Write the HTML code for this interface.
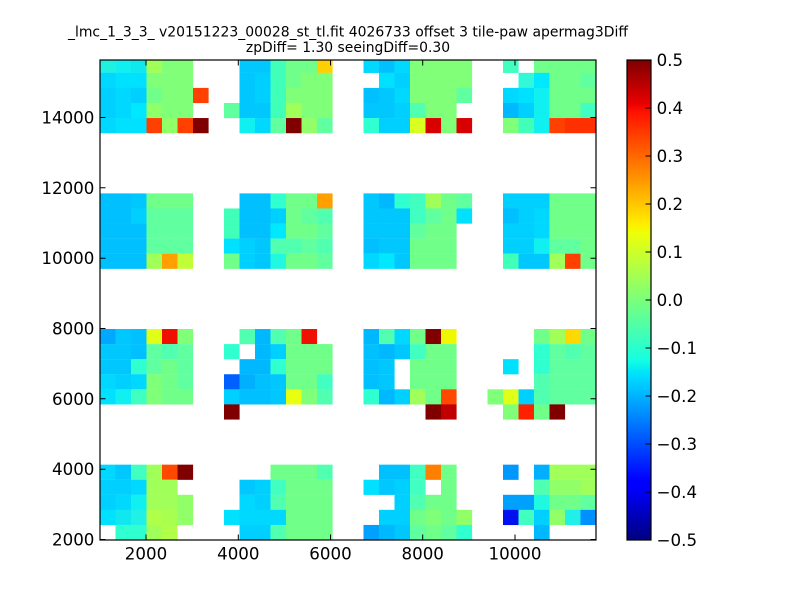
<!DOCTYPE html>
<html><head><meta charset="utf-8"><style>
html,body{margin:0;padding:0;background:#fff;}
svg{display:block;}
text{font-family:"DejaVu Sans","Liberation Sans",sans-serif;fill:#000;}
</style></head><body>
<svg width="800" height="600" viewBox="0 0 800 600" xmlns="http://www.w3.org/2000/svg">
<defs>
<clipPath id="ax"><rect x="100" y="60" width="496" height="480"/></clipPath>
<linearGradient id="jet" x1="0" y1="1" x2="0" y2="0">
<stop offset="0" stop-color="#00007f"/>
<stop offset="0.11" stop-color="#0000ff"/>
<stop offset="0.125" stop-color="#0000ff"/>
<stop offset="0.34" stop-color="#00dbff"/>
<stop offset="0.35" stop-color="#00e5f7"/>
<stop offset="0.375" stop-color="#15ffe2"/>
<stop offset="0.5" stop-color="#7bff7b"/>
<stop offset="0.64" stop-color="#eeff08"/>
<stop offset="0.65" stop-color="#f7f500"/>
<stop offset="0.66" stop-color="#ffec00"/>
<stop offset="0.89" stop-color="#ff1300"/>
<stop offset="0.91" stop-color="#e80000"/>
<stop offset="1" stop-color="#7f0000"/>
</linearGradient>
</defs>
<rect width="800" height="600" fill="#fff"/>

<g clip-path="url(#ax)">
<!-- r31 -->
<g transform="translate(0,57.76)">
<rect x="100" width="15.6" height="15.2" fill="#20f0e0"/><rect x="115.5" width="15.6" height="15.2" fill="#10f0f0"/><rect x="131" width="15.6" height="15.2" fill="#10e8f0"/><rect x="146.5" width="15.6" height="15.2" fill="#a0ff58"/><rect x="162" width="15.6" height="15.2" fill="#80ff78"/><rect x="177.5" width="15.6" height="15.2" fill="#80ff78"/>
<rect x="239.5" width="15.6" height="15.2" fill="#00c8ff"/><rect x="255" width="15.6" height="15.2" fill="#00c8ff"/><rect x="270.5" width="15.6" height="15.2" fill="#40ffb8"/><rect x="286" width="15.6" height="15.2" fill="#70ff88"/><rect x="301.5" width="15.6" height="15.2" fill="#70ff88"/><rect x="317" width="15.6" height="15.2" fill="#ffd000"/>
<rect x="363.5" width="15.6" height="15.2" fill="#00d8ff"/><rect x="379" width="15.6" height="15.2" fill="#00c0ff"/><rect x="394.5" width="15.6" height="15.2" fill="#00d8ff"/><rect x="410" width="15.6" height="15.2" fill="#80ff78"/><rect x="425.5" width="15.6" height="15.2" fill="#80ff78"/><rect x="441" width="15.6" height="15.2" fill="#80ff78"/><rect x="456.5" width="15.6" height="15.2" fill="#80ff78"/>
<rect x="503" width="15.6" height="15.2" fill="#40ffc0"/><rect x="534" width="15.6" height="15.2" fill="#70ff88"/><rect x="549.5" width="15.6" height="15.2" fill="#70ff88"/><rect x="565" width="15.6" height="15.2" fill="#70ff88"/><rect x="580.5" width="15.6" height="15.2" fill="#70ff88"/>
</g>
<!-- r30 -->
<g transform="translate(0,72.83)">
<rect x="100" width="15.6" height="15.2" fill="#00d8ff"/><rect x="115.5" width="15.6" height="15.2" fill="#00e0ff"/><rect x="131" width="15.6" height="15.2" fill="#00e0ff"/><rect x="146.5" width="15.6" height="15.2" fill="#80ff78"/><rect x="162" width="15.6" height="15.2" fill="#80ff78"/><rect x="177.5" width="15.6" height="15.2" fill="#80ff78"/>
<rect x="239.5" width="15.6" height="15.2" fill="#00c8ff"/><rect x="255" width="15.6" height="15.2" fill="#00d0ff"/><rect x="270.5" width="15.6" height="15.2" fill="#40ffb8"/><rect x="286" width="15.6" height="15.2" fill="#70ff88"/><rect x="301.5" width="15.6" height="15.2" fill="#80ff78"/><rect x="317" width="15.6" height="15.2" fill="#80ff78"/>
<rect x="379" width="15.6" height="15.2" fill="#00e0ff"/><rect x="394.5" width="15.6" height="15.2" fill="#00d0ff"/><rect x="410" width="15.6" height="15.2" fill="#80ff78"/><rect x="425.5" width="15.6" height="15.2" fill="#80ff78"/><rect x="441" width="15.6" height="15.2" fill="#80ff78"/><rect x="456.5" width="15.6" height="15.2" fill="#80ff78"/>
<rect x="518.5" width="15.6" height="15.2" fill="#30f8d8"/><rect x="534" width="15.6" height="15.2" fill="#00e8ff"/><rect x="549.5" width="15.6" height="15.2" fill="#70ff88"/><rect x="565" width="15.6" height="15.2" fill="#70ff88"/><rect x="580.5" width="15.6" height="15.2" fill="#60ffa0"/>
</g>
<!-- r29 -->
<g transform="translate(0,87.90)">
<rect x="100" width="15.6" height="15.2" fill="#00d0ff"/><rect x="115.5" width="15.6" height="15.2" fill="#00d8ff"/><rect x="131" width="15.6" height="15.2" fill="#00d0ff"/><rect x="146.5" width="15.6" height="15.2" fill="#70ff88"/><rect x="162" width="15.6" height="15.2" fill="#80ff78"/><rect x="177.5" width="15.6" height="15.2" fill="#80ff78"/><rect x="193" width="15.6" height="15.2" fill="#ff4000"/>
<rect x="239.5" width="15.6" height="15.2" fill="#00c8ff"/><rect x="255" width="15.6" height="15.2" fill="#00d0ff"/><rect x="270.5" width="15.6" height="15.2" fill="#40ffb8"/><rect x="286" width="15.6" height="15.2" fill="#80ff78"/><rect x="301.5" width="15.6" height="15.2" fill="#80ff78"/><rect x="317" width="15.6" height="15.2" fill="#80ff78"/>
<rect x="363.5" width="15.6" height="15.2" fill="#00c0ff"/><rect x="379" width="15.6" height="15.2" fill="#00c8ff"/><rect x="394.5" width="15.6" height="15.2" fill="#00d8ff"/><rect x="410" width="15.6" height="15.2" fill="#80ff78"/><rect x="425.5" width="15.6" height="15.2" fill="#80ff78"/><rect x="441" width="15.6" height="15.2" fill="#80ff78"/><rect x="456.5" width="15.6" height="15.2" fill="#60ffa0"/>
<rect x="503" width="15.6" height="15.2" fill="#00d8ff"/><rect x="518.5" width="15.6" height="15.2" fill="#00e0ff"/><rect x="534" width="15.6" height="15.2" fill="#10f0f0"/><rect x="549.5" width="15.6" height="15.2" fill="#70ff88"/><rect x="565" width="15.6" height="15.2" fill="#70ff88"/><rect x="580.5" width="15.6" height="15.2" fill="#70ff88"/>
</g>
<!-- r28 -->
<g transform="translate(0,102.97)">
<rect x="100" width="15.6" height="15.2" fill="#00d0ff"/><rect x="115.5" width="15.6" height="15.2" fill="#00d8ff"/><rect x="131" width="15.6" height="15.2" fill="#00e8ff"/><rect x="146.5" width="15.6" height="15.2" fill="#90ff68"/><rect x="162" width="15.6" height="15.2" fill="#80ff78"/><rect x="177.5" width="15.6" height="15.2" fill="#80ff78"/>
<rect x="224" width="15.6" height="15.2" fill="#60ffa0"/><rect x="239.5" width="15.6" height="15.2" fill="#00c8ff"/><rect x="255" width="15.6" height="15.2" fill="#00c8ff"/><rect x="270.5" width="15.6" height="15.2" fill="#40ffb8"/><rect x="286" width="15.6" height="15.2" fill="#a0ff58"/><rect x="301.5" width="15.6" height="15.2" fill="#80ff78"/><rect x="317" width="15.6" height="15.2" fill="#80ff78"/>
<rect x="363.5" width="15.6" height="15.2" fill="#00c8ff"/><rect x="379" width="15.6" height="15.2" fill="#00c8ff"/><rect x="394.5" width="15.6" height="15.2" fill="#00d0ff"/><rect x="410" width="15.6" height="15.2" fill="#50ffb0"/><rect x="425.5" width="15.6" height="15.2" fill="#80ff78"/><rect x="441" width="15.6" height="15.2" fill="#80ff78"/>
<rect x="503" width="15.6" height="15.2" fill="#00b8ff"/><rect x="518.5" width="15.6" height="15.2" fill="#00d0ff"/><rect x="534" width="15.6" height="15.2" fill="#10f0f0"/><rect x="549.5" width="15.6" height="15.2" fill="#70ff88"/><rect x="565" width="15.6" height="15.2" fill="#70ff88"/><rect x="580.5" width="15.6" height="15.2" fill="#40ffc0"/>
</g>
<!-- r27 -->
<g transform="translate(0,118.04)">
<rect x="100" width="15.6" height="15.2" fill="#00d8ff"/><rect x="115.5" width="15.6" height="15.2" fill="#00e0ff"/><rect x="131" width="15.6" height="15.2" fill="#00e0ff"/><rect x="146.5" width="15.6" height="15.2" fill="#ff4000"/><rect x="162" width="15.6" height="15.2" fill="#90ff68"/><rect x="177.5" width="15.6" height="15.2" fill="#ff4000"/><rect x="193" width="15.6" height="15.2" fill="#800000"/>
<rect x="239.5" width="15.6" height="15.2" fill="#10f0f0"/><rect x="255" width="15.6" height="15.2" fill="#00d8ff"/><rect x="270.5" width="15.6" height="15.2" fill="#60ffa0"/><rect x="286" width="15.6" height="15.2" fill="#800000"/><rect x="301.5" width="15.6" height="15.2" fill="#90ff68"/><rect x="317" width="15.6" height="15.2" fill="#60ffa0"/>
<rect x="363.5" width="15.6" height="15.2" fill="#30ffd0"/><rect x="379" width="15.6" height="15.2" fill="#00d0ff"/><rect x="394.5" width="15.6" height="15.2" fill="#00d0ff"/><rect x="410" width="15.6" height="15.2" fill="#d8ff20"/><rect x="425.5" width="15.6" height="15.2" fill="#d80000"/><rect x="441" width="15.6" height="15.2" fill="#80ff78"/><rect x="456.5" width="15.6" height="15.2" fill="#d80000"/>
<rect x="503" width="15.6" height="15.2" fill="#80ff78"/><rect x="518.5" width="15.6" height="15.2" fill="#40ffb8"/><rect x="534" width="15.6" height="15.2" fill="#10f0f0"/><rect x="549.5" width="15.6" height="15.2" fill="#ff4000"/><rect x="565" width="15.6" height="15.2" fill="#ff3000"/><rect x="580.5" width="15.6" height="15.2" fill="#ff3000"/>
</g>

<!-- r22 -->
<g transform="translate(0,193.39)">
<rect x="100" width="15.6" height="15.2" fill="#00c0ff"/><rect x="115.5" width="15.6" height="15.2" fill="#00c0ff"/><rect x="131" width="15.6" height="15.2" fill="#00c8ff"/><rect x="146.5" width="15.6" height="15.2" fill="#70ff88"/><rect x="162" width="15.6" height="15.2" fill="#70ff88"/><rect x="177.5" width="15.6" height="15.2" fill="#70ff88"/>
<rect x="239.5" width="15.6" height="15.2" fill="#00c0ff"/><rect x="255" width="15.6" height="15.2" fill="#00c0ff"/><rect x="270.5" width="15.6" height="15.2" fill="#30ffd0"/><rect x="286" width="15.6" height="15.2" fill="#70ff88"/><rect x="301.5" width="15.6" height="15.2" fill="#70ff88"/><rect x="317" width="15.6" height="15.2" fill="#ffa000"/>
<rect x="363.5" width="15.6" height="15.2" fill="#00c8ff"/><rect x="379" width="15.6" height="15.2" fill="#00b8ff"/><rect x="394.5" width="15.6" height="15.2" fill="#30ffd0"/><rect x="410" width="15.6" height="15.2" fill="#40ffc0"/><rect x="425.5" width="15.6" height="15.2" fill="#a0ff58"/><rect x="441" width="15.6" height="15.2" fill="#70ff88"/><rect x="456.5" width="15.6" height="15.2" fill="#60ffa0"/>
<rect x="503" width="15.6" height="15.2" fill="#00d0ff"/><rect x="518.5" width="15.6" height="15.2" fill="#00d0ff"/><rect x="534" width="15.6" height="15.2" fill="#00d0ff"/><rect x="549.5" width="15.6" height="15.2" fill="#70ff88"/><rect x="565" width="15.6" height="15.2" fill="#70ff88"/><rect x="580.5" width="15.6" height="15.2" fill="#70ff88"/>
</g>
<!-- r21 -->
<g transform="translate(0,208.46)">
<rect x="100" width="15.6" height="15.2" fill="#00c0ff"/><rect x="115.5" width="15.6" height="15.2" fill="#00c0ff"/><rect x="131" width="15.6" height="15.2" fill="#00d0ff"/><rect x="146.5" width="15.6" height="15.2" fill="#60ffa0"/><rect x="162" width="15.6" height="15.2" fill="#60ffa0"/><rect x="177.5" width="15.6" height="15.2" fill="#60ffa0"/>
<rect x="224" width="15.6" height="15.2" fill="#40ffb8"/><rect x="239.5" width="15.6" height="15.2" fill="#00c0ff"/><rect x="255" width="15.6" height="15.2" fill="#00c0ff"/><rect x="270.5" width="15.6" height="15.2" fill="#00d0ff"/><rect x="286" width="15.6" height="15.2" fill="#70ff88"/><rect x="301.5" width="15.6" height="15.2" fill="#60ffa0"/><rect x="317" width="15.6" height="15.2" fill="#50ffb0"/>
<rect x="363.5" width="15.6" height="15.2" fill="#00c8ff"/><rect x="379" width="15.6" height="15.2" fill="#00c8ff"/><rect x="394.5" width="15.6" height="15.2" fill="#00c8ff"/><rect x="410" width="15.6" height="15.2" fill="#40ffc0"/><rect x="425.5" width="15.6" height="15.2" fill="#60ffa0"/><rect x="441" width="15.6" height="15.2" fill="#70ff88"/><rect x="456.5" width="15.6" height="15.2" fill="#00e0ff"/>
<rect x="503" width="15.6" height="15.2" fill="#00c0ff"/><rect x="518.5" width="15.6" height="15.2" fill="#00d0ff"/><rect x="534" width="15.6" height="15.2" fill="#00d8ff"/><rect x="549.5" width="15.6" height="15.2" fill="#70ff88"/><rect x="565" width="15.6" height="15.2" fill="#70ff88"/><rect x="580.5" width="15.6" height="15.2" fill="#70ff88"/>
</g>
<!-- r20 -->
<g transform="translate(0,223.53)">
<rect x="100" width="15.6" height="15.2" fill="#00c0ff"/><rect x="115.5" width="15.6" height="15.2" fill="#00c0ff"/><rect x="131" width="15.6" height="15.2" fill="#00c0ff"/><rect x="146.5" width="15.6" height="15.2" fill="#60ffa0"/><rect x="162" width="15.6" height="15.2" fill="#60ffa0"/><rect x="177.5" width="15.6" height="15.2" fill="#60ffa0"/>
<rect x="224" width="15.6" height="15.2" fill="#40ffb8"/><rect x="239.5" width="15.6" height="15.2" fill="#00c0ff"/><rect x="255" width="15.6" height="15.2" fill="#00c0ff"/><rect x="270.5" width="15.6" height="15.2" fill="#00e8ff"/><rect x="286" width="15.6" height="15.2" fill="#70ff88"/><rect x="301.5" width="15.6" height="15.2" fill="#70ff88"/><rect x="317" width="15.6" height="15.2" fill="#60ffa0"/>
<rect x="363.5" width="15.6" height="15.2" fill="#00c8ff"/><rect x="379" width="15.6" height="15.2" fill="#00c8ff"/><rect x="394.5" width="15.6" height="15.2" fill="#00c8ff"/><rect x="410" width="15.6" height="15.2" fill="#60ffa0"/><rect x="425.5" width="15.6" height="15.2" fill="#70ff88"/><rect x="441" width="15.6" height="15.2" fill="#70ff88"/>
<rect x="503" width="15.6" height="15.2" fill="#00d0ff"/><rect x="518.5" width="15.6" height="15.2" fill="#00d0ff"/><rect x="534" width="15.6" height="15.2" fill="#00d8ff"/><rect x="549.5" width="15.6" height="15.2" fill="#70ff88"/><rect x="565" width="15.6" height="15.2" fill="#70ff88"/><rect x="580.5" width="15.6" height="15.2" fill="#70ff88"/>
</g>
<!-- r19 -->
<g transform="translate(0,238.60)">
<rect x="100" width="15.6" height="15.2" fill="#00c0ff"/><rect x="115.5" width="15.6" height="15.2" fill="#00c0ff"/><rect x="131" width="15.6" height="15.2" fill="#00c0ff"/><rect x="146.5" width="15.6" height="15.2" fill="#60ffa0"/><rect x="162" width="15.6" height="15.2" fill="#60ffa0"/><rect x="177.5" width="15.6" height="15.2" fill="#60ffa0"/>
<rect x="224" width="15.6" height="15.2" fill="#00e0ff"/><rect x="239.5" width="15.6" height="15.2" fill="#00d0ff"/><rect x="255" width="15.6" height="15.2" fill="#00c8ff"/><rect x="270.5" width="15.6" height="15.2" fill="#50ffb0"/><rect x="286" width="15.6" height="15.2" fill="#50ffb0"/><rect x="301.5" width="15.6" height="15.2" fill="#60ffa0"/><rect x="317" width="15.6" height="15.2" fill="#50ffb0"/>
<rect x="363.5" width="15.6" height="15.2" fill="#00c0ff"/><rect x="379" width="15.6" height="15.2" fill="#00c8ff"/><rect x="394.5" width="15.6" height="15.2" fill="#00c8ff"/><rect x="410" width="15.6" height="15.2" fill="#70ff88"/><rect x="425.5" width="15.6" height="15.2" fill="#70ff88"/><rect x="441" width="15.6" height="15.2" fill="#70ff88"/>
<rect x="503" width="15.6" height="15.2" fill="#00d0ff"/><rect x="518.5" width="15.6" height="15.2" fill="#00d0ff"/><rect x="534" width="15.6" height="15.2" fill="#10f0f0"/><rect x="549.5" width="15.6" height="15.2" fill="#60ffa0"/><rect x="565" width="15.6" height="15.2" fill="#60ffa0"/><rect x="580.5" width="15.6" height="15.2" fill="#70ff88"/>
</g>
<!-- r18 -->
<g transform="translate(0,253.67)">
<rect x="100" width="15.6" height="15.2" fill="#00c0ff"/><rect x="115.5" width="15.6" height="15.2" fill="#00c0ff"/><rect x="131" width="15.6" height="15.2" fill="#00c0ff"/><rect x="146.5" width="15.6" height="15.2" fill="#a0ff58"/><rect x="162" width="15.6" height="15.2" fill="#ffa000"/><rect x="177.5" width="15.6" height="15.2" fill="#c0ff38"/>
<rect x="224" width="15.6" height="15.2" fill="#70ff88"/><rect x="239.5" width="15.6" height="15.2" fill="#00d0ff"/><rect x="255" width="15.6" height="15.2" fill="#00c8ff"/><rect x="270.5" width="15.6" height="15.2" fill="#20f8e0"/><rect x="286" width="15.6" height="15.2" fill="#70ff88"/><rect x="301.5" width="15.6" height="15.2" fill="#70ff88"/><rect x="317" width="15.6" height="15.2" fill="#60ffa0"/>
<rect x="363.5" width="15.6" height="15.2" fill="#00d8ff"/><rect x="379" width="15.6" height="15.2" fill="#00e8ff"/><rect x="394.5" width="15.6" height="15.2" fill="#00c8ff"/><rect x="410" width="15.6" height="15.2" fill="#70ff88"/><rect x="425.5" width="15.6" height="15.2" fill="#70ff88"/><rect x="441" width="15.6" height="15.2" fill="#70ff88"/>
<rect x="503" width="15.6" height="15.2" fill="#40ffb8"/><rect x="518.5" width="15.6" height="15.2" fill="#00c8ff"/><rect x="534" width="15.6" height="15.2" fill="#00c8ff"/><rect x="549.5" width="15.6" height="15.2" fill="#a0ff58"/><rect x="565" width="15.6" height="15.2" fill="#ff4000"/><rect x="580.5" width="15.6" height="15.2" fill="#70ff88"/>
</g>

<!-- r13 -->
<g transform="translate(0,329.02)">
<rect x="100" width="15.6" height="15.2" fill="#00a8ff"/><rect x="115.5" width="15.6" height="15.2" fill="#00c8ff"/><rect x="131" width="15.6" height="15.2" fill="#00c0ff"/><rect x="146.5" width="15.6" height="15.2" fill="#e0ff18"/><rect x="162" width="15.6" height="15.2" fill="#f01000"/><rect x="177.5" width="15.6" height="15.2" fill="#80ff78"/>
<rect x="239.5" width="15.6" height="15.2" fill="#50ffb0"/><rect x="255" width="15.6" height="15.2" fill="#00b8ff"/><rect x="270.5" width="15.6" height="15.2" fill="#50ffb0"/><rect x="286" width="15.6" height="15.2" fill="#70ff88"/><rect x="301.5" width="15.6" height="15.2" fill="#f01000"/>
<rect x="363.5" width="15.6" height="15.2" fill="#00b8ff"/><rect x="379" width="15.6" height="15.2" fill="#50ffb0"/><rect x="394.5" width="15.6" height="15.2" fill="#00d8ff"/><rect x="410" width="15.6" height="15.2" fill="#70ff88"/><rect x="425.5" width="15.6" height="15.2" fill="#800000"/><rect x="441" width="15.6" height="15.2" fill="#f0f800"/>
<rect x="534" width="15.6" height="15.2" fill="#70ff88"/><rect x="549.5" width="15.6" height="15.2" fill="#a0ff58"/><rect x="565" width="15.6" height="15.2" fill="#ffd800"/><rect x="580.5" width="15.6" height="15.2" fill="#70ff88"/>
</g>
<!-- r12 -->
<g transform="translate(0,344.09)">
<rect x="100" width="15.6" height="15.2" fill="#00c8ff"/><rect x="115.5" width="15.6" height="15.2" fill="#00c8ff"/><rect x="131" width="15.6" height="15.2" fill="#00c0ff"/><rect x="146.5" width="15.6" height="15.2" fill="#60ffa0"/><rect x="162" width="15.6" height="15.2" fill="#50ffb0"/><rect x="177.5" width="15.6" height="15.2" fill="#60ffa0"/>
<rect x="224" width="15.6" height="15.2" fill="#30ffd0"/><rect x="255" width="15.6" height="15.2" fill="#00b8ff"/><rect x="270.5" width="15.6" height="15.2" fill="#00d0ff"/><rect x="286" width="15.6" height="15.2" fill="#70ff88"/><rect x="301.5" width="15.6" height="15.2" fill="#70ff88"/><rect x="317" width="15.6" height="15.2" fill="#70ff88"/>
<rect x="363.5" width="15.6" height="15.2" fill="#00c0ff"/><rect x="379" width="15.6" height="15.2" fill="#00b8ff"/><rect x="394.5" width="15.6" height="15.2" fill="#00c8ff"/><rect x="410" width="15.6" height="15.2" fill="#40ffc0"/><rect x="425.5" width="15.6" height="15.2" fill="#70ff88"/><rect x="441" width="15.6" height="15.2" fill="#70ff88"/>
<rect x="534" width="15.6" height="15.2" fill="#30ffd0"/><rect x="549.5" width="15.6" height="15.2" fill="#60ffa0"/><rect x="565" width="15.6" height="15.2" fill="#50ffb0"/><rect x="580.5" width="15.6" height="15.2" fill="#60ffa0"/>
</g>
<!-- r11 -->
<g transform="translate(0,359.16)">
<rect x="100" width="15.6" height="15.2" fill="#00c8ff"/><rect x="115.5" width="15.6" height="15.2" fill="#00c8ff"/><rect x="131" width="15.6" height="15.2" fill="#30ffd0"/><rect x="146.5" width="15.6" height="15.2" fill="#60ffa0"/><rect x="162" width="15.6" height="15.2" fill="#70ff88"/><rect x="177.5" width="15.6" height="15.2" fill="#60ffa0"/>
<rect x="239.5" width="15.6" height="15.2" fill="#00b8ff"/><rect x="255" width="15.6" height="15.2" fill="#00b8ff"/><rect x="270.5" width="15.6" height="15.2" fill="#30ffd0"/><rect x="286" width="15.6" height="15.2" fill="#70ff88"/><rect x="301.5" width="15.6" height="15.2" fill="#70ff88"/><rect x="317" width="15.6" height="15.2" fill="#70ff88"/>
<rect x="363.5" width="15.6" height="15.2" fill="#00c0ff"/><rect x="379" width="15.6" height="15.2" fill="#00c8ff"/><rect x="410" width="15.6" height="15.2" fill="#70ff88"/><rect x="425.5" width="15.6" height="15.2" fill="#70ff88"/><rect x="441" width="15.6" height="15.2" fill="#70ff88"/>
<rect x="503" width="15.6" height="15.2" fill="#00e0ff"/><rect x="534" width="15.6" height="15.2" fill="#30ffd0"/><rect x="549.5" width="15.6" height="15.2" fill="#60ffa0"/><rect x="565" width="15.6" height="15.2" fill="#60ffa0"/><rect x="580.5" width="15.6" height="15.2" fill="#60ffa0"/>
</g>
<!-- r10 -->
<g transform="translate(0,374.23)">
<rect x="100" width="15.6" height="15.2" fill="#00d8ff"/><rect x="115.5" width="15.6" height="15.2" fill="#00d0ff"/><rect x="131" width="15.6" height="15.2" fill="#00d8ff"/><rect x="146.5" width="15.6" height="15.2" fill="#80ff78"/><rect x="162" width="15.6" height="15.2" fill="#70ff88"/><rect x="177.5" width="15.6" height="15.2" fill="#60ffa0"/>
<rect x="224" width="15.6" height="15.2" fill="#0060ff"/><rect x="239.5" width="15.6" height="15.2" fill="#00b0ff"/><rect x="255" width="15.6" height="15.2" fill="#00c0ff"/><rect x="270.5" width="15.6" height="15.2" fill="#00c8ff"/><rect x="286" width="15.6" height="15.2" fill="#70ff88"/><rect x="301.5" width="15.6" height="15.2" fill="#70ff88"/><rect x="317" width="15.6" height="15.2" fill="#40ffc0"/>
<rect x="363.5" width="15.6" height="15.2" fill="#00c0ff"/><rect x="379" width="15.6" height="15.2" fill="#00c8ff"/><rect x="410" width="15.6" height="15.2" fill="#70ff88"/><rect x="425.5" width="15.6" height="15.2" fill="#70ff88"/><rect x="441" width="15.6" height="15.2" fill="#70ff88"/>
<rect x="534" width="15.6" height="15.2" fill="#50ffb0"/><rect x="549.5" width="15.6" height="15.2" fill="#60ffa0"/><rect x="565" width="15.6" height="15.2" fill="#60ffa0"/><rect x="580.5" width="15.6" height="15.2" fill="#60ffa0"/>
</g>
<!-- r9 -->
<g transform="translate(0,389.30)">
<rect x="100" width="15.6" height="15.2" fill="#00e0ff"/><rect x="115.5" width="15.6" height="15.2" fill="#10f0f0"/><rect x="131" width="15.6" height="15.2" fill="#40ffc0"/><rect x="146.5" width="15.6" height="15.2" fill="#80ff78"/><rect x="162" width="15.6" height="15.2" fill="#70ff88"/><rect x="177.5" width="15.6" height="15.2" fill="#70ff88"/>
<rect x="224" width="15.6" height="15.2" fill="#00d0ff"/><rect x="239.5" width="15.6" height="15.2" fill="#00c0ff"/><rect x="255" width="15.6" height="15.2" fill="#00c0ff"/><rect x="270.5" width="15.6" height="15.2" fill="#00c8ff"/><rect x="286" width="15.6" height="15.2" fill="#e8ff10"/><rect x="301.5" width="15.6" height="15.2" fill="#80ff78"/><rect x="317" width="15.6" height="15.2" fill="#50ffb0"/>
<rect x="363.5" width="15.6" height="15.2" fill="#30ffd0"/><rect x="379" width="15.6" height="15.2" fill="#00b8ff"/><rect x="394.5" width="15.6" height="15.2" fill="#00d0ff"/><rect x="410" width="15.6" height="15.2" fill="#a0ff58"/><rect x="425.5" width="15.6" height="15.2" fill="#70ff88"/><rect x="441" width="15.6" height="15.2" fill="#ff4800"/>
<rect x="487.5" width="15.6" height="15.2" fill="#80ff78"/><rect x="503" width="15.6" height="15.2" fill="#e0ff18"/><rect x="518.5" width="15.6" height="15.2" fill="#00d0ff"/><rect x="534" width="15.6" height="15.2" fill="#50ffb0"/><rect x="549.5" width="15.6" height="15.2" fill="#60ffa0"/><rect x="565" width="15.6" height="15.2" fill="#60ffa0"/><rect x="580.5" width="15.6" height="15.2" fill="#60ffa0"/>
</g>
<!-- r8 -->
<g transform="translate(0,404.37)">
<rect x="224" width="15.6" height="15.2" fill="#800000"/>
<rect x="425.5" width="15.6" height="15.2" fill="#800000"/><rect x="441" width="15.6" height="15.2" fill="#c00000"/>
<rect x="503" width="15.6" height="15.2" fill="#80ff78"/><rect x="518.5" width="15.6" height="15.2" fill="#ff2000"/><rect x="534" width="15.6" height="15.2" fill="#70ff88"/><rect x="549.5" width="15.6" height="15.2" fill="#800000"/>
</g>

<!-- r4 -->
<g transform="translate(0,464.65)">
<rect x="100" width="15.6" height="15.2" fill="#00d8ff"/><rect x="115.5" width="15.6" height="15.2" fill="#00c8ff"/><rect x="131" width="15.6" height="15.2" fill="#40ffc0"/><rect x="146.5" width="15.6" height="15.2" fill="#a0ff58"/><rect x="162" width="15.6" height="15.2" fill="#ff4800"/><rect x="177.5" width="15.6" height="15.2" fill="#800000"/>
<rect x="270.5" width="15.6" height="15.2" fill="#70ff88"/><rect x="286" width="15.6" height="15.2" fill="#70ff88"/><rect x="301.5" width="15.6" height="15.2" fill="#70ff88"/><rect x="317" width="15.6" height="15.2" fill="#50ffb0"/>
<rect x="379" width="15.6" height="15.2" fill="#00c0ff"/><rect x="394.5" width="15.6" height="15.2" fill="#00c0ff"/><rect x="410" width="15.6" height="15.2" fill="#40ffc0"/><rect x="425.5" width="15.6" height="15.2" fill="#ff8000"/><rect x="441" width="15.6" height="15.2" fill="#70ff88"/>
<rect x="503" width="15.6" height="15.2" fill="#0098ff"/><rect x="534" width="15.6" height="15.2" fill="#00b0ff"/><rect x="549.5" width="15.6" height="15.2" fill="#a0ff58"/><rect x="565" width="15.6" height="15.2" fill="#a0ff58"/><rect x="580.5" width="15.6" height="15.2" fill="#a0ff58"/>
</g>
<!-- r3 -->
<g transform="translate(0,479.72)">
<rect x="100" width="15.6" height="15.2" fill="#00d0ff"/><rect x="115.5" width="15.6" height="15.2" fill="#00d0ff"/><rect x="131" width="15.6" height="15.2" fill="#00d8ff"/><rect x="146.5" width="15.6" height="15.2" fill="#a0ff58"/><rect x="162" width="15.6" height="15.2" fill="#a0ff58"/>
<rect x="239.5" width="15.6" height="15.2" fill="#00c8ff"/><rect x="255" width="15.6" height="15.2" fill="#00d0ff"/><rect x="270.5" width="15.6" height="15.2" fill="#40ffc0"/><rect x="286" width="15.6" height="15.2" fill="#70ff88"/><rect x="301.5" width="15.6" height="15.2" fill="#70ff88"/><rect x="317" width="15.6" height="15.2" fill="#70ff88"/>
<rect x="363.5" width="15.6" height="15.2" fill="#00e0ff"/><rect x="379" width="15.6" height="15.2" fill="#00c8ff"/><rect x="394.5" width="15.6" height="15.2" fill="#00d0ff"/><rect x="410" width="15.6" height="15.2" fill="#40ffc0"/><rect x="441" width="15.6" height="15.2" fill="#70ff88"/>
<rect x="534" width="15.6" height="15.2" fill="#50ffb0"/><rect x="549.5" width="15.6" height="15.2" fill="#90ff68"/><rect x="565" width="15.6" height="15.2" fill="#90ff68"/><rect x="580.5" width="15.6" height="15.2" fill="#a0ff58"/>
</g>
<!-- r2 -->
<g transform="translate(0,494.79)">
<rect x="100" width="15.6" height="15.2" fill="#00d0ff"/><rect x="115.5" width="15.6" height="15.2" fill="#00d8ff"/><rect x="131" width="15.6" height="15.2" fill="#10f0f0"/><rect x="146.5" width="15.6" height="15.2" fill="#a0ff58"/><rect x="162" width="15.6" height="15.2" fill="#a0ff58"/><rect x="177.5" width="15.6" height="15.2" fill="#90ff68"/>
<rect x="239.5" width="15.6" height="15.2" fill="#00d8ff"/><rect x="255" width="15.6" height="15.2" fill="#00d0ff"/><rect x="270.5" width="15.6" height="15.2" fill="#50ffb0"/><rect x="286" width="15.6" height="15.2" fill="#70ff88"/><rect x="301.5" width="15.6" height="15.2" fill="#70ff88"/><rect x="317" width="15.6" height="15.2" fill="#70ff88"/>
<rect x="394.5" width="15.6" height="15.2" fill="#00d0ff"/><rect x="410" width="15.6" height="15.2" fill="#50ffb0"/><rect x="425.5" width="15.6" height="15.2" fill="#70ff88"/><rect x="441" width="15.6" height="15.2" fill="#70ff88"/>
<rect x="503" width="15.6" height="15.2" fill="#00a0ff"/><rect x="518.5" width="15.6" height="15.2" fill="#00a0ff"/><rect x="534" width="15.6" height="15.2" fill="#20f8e0"/><rect x="549.5" width="15.6" height="15.2" fill="#70ff88"/><rect x="565" width="15.6" height="15.2" fill="#70ff88"/><rect x="580.5" width="15.6" height="15.2" fill="#60ffa0"/>
</g>
<!-- r1 -->
<g transform="translate(0,509.86)">
<rect x="100" width="15.6" height="15.2" fill="#00e0ff"/><rect x="115.5" width="15.6" height="15.2" fill="#10e8f0"/><rect x="131" width="15.6" height="15.2" fill="#20f0e8"/><rect x="146.5" width="15.6" height="15.2" fill="#b0ff48"/><rect x="162" width="15.6" height="15.2" fill="#a8ff50"/><rect x="177.5" width="15.6" height="15.2" fill="#90ff68"/>
<rect x="224" width="15.6" height="15.2" fill="#00e0ff"/><rect x="239.5" width="15.6" height="15.2" fill="#00d8ff"/><rect x="255" width="15.6" height="15.2" fill="#00d8ff"/><rect x="270.5" width="15.6" height="15.2" fill="#00d8ff"/><rect x="286" width="15.6" height="15.2" fill="#70ff88"/><rect x="301.5" width="15.6" height="15.2" fill="#70ff88"/><rect x="317" width="15.6" height="15.2" fill="#70ff88"/>
<rect x="379" width="15.6" height="15.2" fill="#00d0ff"/><rect x="394.5" width="15.6" height="15.2" fill="#00d0ff"/><rect x="410" width="15.6" height="15.2" fill="#70ff88"/><rect x="425.5" width="15.6" height="15.2" fill="#80ff78"/><rect x="441" width="15.6" height="15.2" fill="#70ff88"/><rect x="456.5" width="15.6" height="15.2" fill="#90ff68"/>
<rect x="503" width="15.6" height="15.2" fill="#0010f0"/><rect x="518.5" width="15.6" height="15.2" fill="#40ffc0"/><rect x="534" width="15.6" height="15.2" fill="#00d0ff"/><rect x="549.5" width="15.6" height="15.2" fill="#90ff68"/><rect x="565" width="15.6" height="15.2" fill="#20f0e8"/><rect x="580.5" width="15.6" height="15.2" fill="#0090ff"/>
</g>
<!-- r0 -->
<g transform="translate(0,524.93)">
<rect x="115.5" width="15.6" height="15.2" fill="#30ffd0"/><rect x="131" width="15.6" height="15.2" fill="#30ffd0"/><rect x="146.5" width="15.6" height="15.2" fill="#a0ff58"/><rect x="162" width="15.6" height="15.2" fill="#b0ff48"/>
<rect x="239.5" width="15.6" height="15.2" fill="#00d0ff"/><rect x="255" width="15.6" height="15.2" fill="#00d0ff"/><rect x="270.5" width="15.6" height="15.2" fill="#50ffb0"/><rect x="286" width="15.6" height="15.2" fill="#70ff88"/><rect x="301.5" width="15.6" height="15.2" fill="#70ff88"/><rect x="317" width="15.6" height="15.2" fill="#70ff88"/>
<rect x="363.5" width="15.6" height="15.2" fill="#00a0ff"/><rect x="379" width="15.6" height="15.2" fill="#00b8ff"/><rect x="394.5" width="15.6" height="15.2" fill="#00c8ff"/><rect x="410" width="15.6" height="15.2" fill="#60ffa0"/><rect x="425.5" width="15.6" height="15.2" fill="#70ff88"/><rect x="441" width="15.6" height="15.2" fill="#60ffa0"/><rect x="456.5" width="15.6" height="15.2" fill="#30ffd0"/>
<rect x="534" width="15.6" height="15.2" fill="#00b8ff"/>
</g>
</g>

<!-- axes frame -->
<rect x="100" y="60" width="496" height="480" fill="none" stroke="#000" stroke-width="1.2"/>
<!-- ticks -->
<g stroke="#000" stroke-width="1">
<path d="M146,540v-5.5M238.3,540v-5.5M330.5,540v-5.5M422.7,540v-5.5M515,540v-5.5"/>
<path d="M146,60v5.5M238.3,60v5.5M330.5,60v5.5M422.7,60v5.5M515,60v5.5"/>
<path d="M100,539.5h5.5M100,469.2h5.5M100,398.8h5.5M100,328.5h5.5M100,258.2h5.5M100,187.8h5.5M100,117.5h5.5"/>
<path d="M596,539.5h-5.5M596,469.2h-5.5M596,398.8h-5.5M596,328.5h-5.5M596,258.2h-5.5M596,187.8h-5.5M596,117.5h-5.5"/>
</g>
<!-- x tick labels -->
<g font-size="16.67" text-anchor="middle">
<text x="146" y="559.5">2000</text>
<text x="238.3" y="559.5">4000</text>
<text x="330.5" y="559.5">6000</text>
<text x="422.7" y="559.5">8000</text>
<text x="515" y="559.5">10000</text>
</g>
<!-- y tick labels -->
<g font-size="16.67" text-anchor="end">
<text x="94.4" y="545.5">2000</text>
<text x="94.4" y="475.2">4000</text>
<text x="94.4" y="404.8">6000</text>
<text x="94.4" y="334.5">8000</text>
<text x="94.4" y="264.2">10000</text>
<text x="94.4" y="193.8">12000</text>
<text x="94.4" y="123.5">14000</text>
</g>

<!-- title -->
<text x="348" y="36.5" font-size="13.9" text-anchor="middle" textLength="560" lengthAdjust="spacingAndGlyphs">_lmc_1_3_3_ v20151223_00028_st_tl.fit 4026733 offset 3 tile-paw apermag3Diff</text>
<text x="348" y="52" font-size="13.9" text-anchor="middle">zpDiff= 1.30 seeingDiff=0.30</text>

<!-- colorbar -->
<rect x="627" y="60" width="24" height="480" fill="url(#jet)"/>
<rect x="627" y="60" width="24" height="480" fill="none" stroke="#000" stroke-width="1.2"/>
<g stroke="#000" stroke-width="1">
<path d="M651,60h-5.5M651,108h-5.5M651,156h-5.5M651,204h-5.5M651,252h-5.5M651,300h-5.5M651,348h-5.5M651,396h-5.5M651,444h-5.5M651,492h-5.5M651,540h-5.5"/>
</g>
<g font-size="16.67">
<text x="656.6" y="66">0.5</text>
<text x="656.6" y="114">0.4</text>
<text x="656.6" y="162">0.3</text>
<text x="656.6" y="210">0.2</text>
<text x="656.6" y="258">0.1</text>
<text x="656.6" y="306">0.0</text>
<text x="656.6" y="354">−0.1</text>
<text x="656.6" y="402">−0.2</text>
<text x="656.6" y="450">−0.3</text>
<text x="656.6" y="498">−0.4</text>
<text x="656.6" y="546">−0.5</text>
</g>
</svg>
</body></html>
